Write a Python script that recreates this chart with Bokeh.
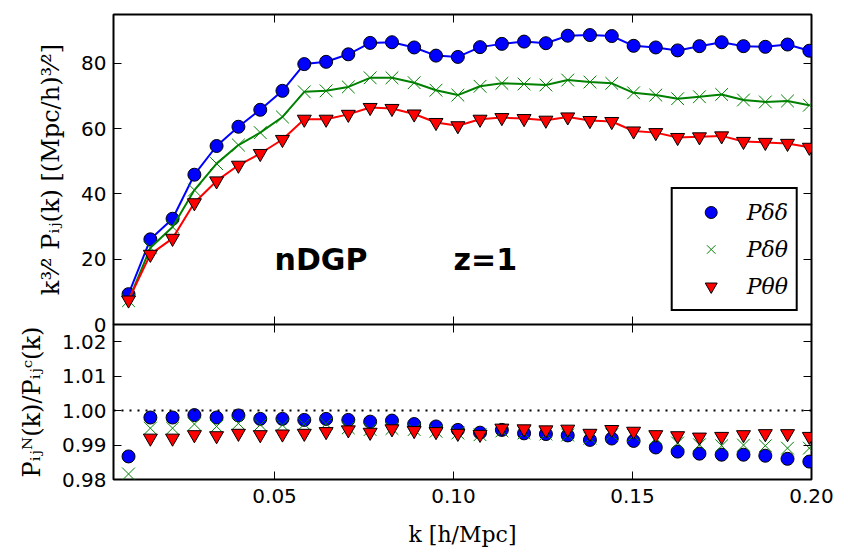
from bokeh.plotting import figure
from bokeh.layouts import column
from bokeh.models import (FixedTicker, LinearAxis, Range1d, Span, Label, Legend,
                          LegendItem, NumeralTickFormatter)
from bokeh.embed import file_html
from bokeh.resources import INLINE

# ---------------- data ----------------
k = [0.0092, 0.0153, 0.0215, 0.0276, 0.0338, 0.0399, 0.0460, 0.0522, 0.0583, 0.0644,
     0.0706, 0.0767, 0.0828, 0.0890, 0.0951, 0.1012, 0.1074, 0.1135, 0.1197, 0.1258,
     0.1319, 0.1381, 0.1442, 0.1503, 0.1565, 0.1626, 0.1687, 0.1749, 0.1810, 0.1871,
     0.1933, 0.1994]

p_dd = [9.3, 26.1, 32.4, 45.9, 54.7, 60.6, 65.8, 71.6, 79.8, 80.5, 82.8, 86.3, 86.5,
        84.9, 82.4, 82.0, 85.0, 86.0, 86.7, 86.2, 88.5, 88.7, 88.4, 85.4, 84.9, 84.0,
        85.3, 86.5, 85.3, 85.1, 85.8, 83.9]
p_dt = [7.3, 23.5, 29.9, 41.2, 49.3, 55.0, 58.8, 63.6, 71.3, 71.6, 72.8, 75.6, 75.6,
        74.1, 71.8, 70.3, 73.0, 73.9, 73.7, 73.4, 74.9, 74.3, 73.9, 71.0, 70.3, 69.2,
        69.8, 70.5, 68.8, 68.2, 68.5, 67.2]
p_tt = [7.5, 21.5, 26.4, 37.3, 44.0, 48.8, 52.4, 56.7, 62.9, 62.9, 64.4, 66.5, 66.2,
        64.5, 61.9, 60.9, 62.9, 63.4, 63.1, 62.6, 63.6, 62.5, 62.2, 59.3, 58.8, 57.3,
        57.5, 57.8, 56.1, 55.8, 55.5, 54.3]

r_dd = [0.9867, 0.9980, 0.9980, 0.9987, 0.9980, 0.9986, 0.9976, 0.9976, 0.9973, 0.9976,
        0.9973, 0.9968, 0.9971, 0.9961, 0.9954, 0.9944, 0.9936, 0.9944, 0.9934, 0.9932,
        0.9928, 0.9915, 0.9919, 0.9912, 0.9893, 0.9881, 0.9875, 0.9872, 0.9872, 0.9869,
        0.9860, 0.9852]
r_dt = [0.9816, 0.9949, 0.9949, 0.9961, 0.9954, 0.9963, 0.9959, 0.9958, 0.9961, 0.9962,
        0.9950, 0.9945, 0.9948, 0.9945, 0.9940, 0.9935, 0.9930, 0.9941, 0.9935, 0.9932,
        0.9929, 0.9920, 0.9930, 0.9928, 0.9920, 0.9906, 0.9901, 0.9898, 0.9900, 0.9898,
        0.9891, 0.9891]
r_tt = [0.9720, 0.9920, 0.9920, 0.9930, 0.9927, 0.9934, 0.9930, 0.9932, 0.9934, 0.9939,
        0.9944, 0.9937, 0.9947, 0.9942, 0.9939, 0.9934, 0.9931, 0.9949, 0.9947, 0.9944,
        0.9946, 0.9934, 0.9945, 0.9940, 0.9930, 0.9927, 0.9923, 0.9925, 0.9930, 0.9933,
        0.9933, 0.9925]

series_labels = ["P\u03b4\u03b4", "P\u03b4\u03b8", "P\u03b8\u03b8"]
x_ticks = [0.05, 0.10, 0.15, 0.20]
y_ticks_top = [0, 20, 40, 60, 80]
y_ticks_bot = [0.98, 0.99, 1.00, 1.01, 1.02]

x_range = (0.005, 0.2)
y_range_top = (0, 95)
y_range_bot = (0.98, 1.025)

TICK_FONT = "DejaVu Sans"
LABEL_FONT = "DejaVu Serif"
OVERLAP = 16   # px of the top canvas that lies under the (transparent) bottom canvas border


def add_axis(p, place, ticks, fmt, labels=True, label=None, label_size="22px"):
    ax = LinearAxis(ticker=FixedTicker(ticks=ticks), formatter=NumeralTickFormatter(format=fmt))
    ax.major_tick_in = 8
    ax.major_tick_out = 0
    ax.major_tick_line_color = "black"
    ax.major_tick_line_width = 1
    ax.minor_tick_line_color = None
    ax.axis_line_color = None
    if labels:
        ax.major_label_text_font = TICK_FONT
        ax.major_label_text_font_size = "20px"
        ax.major_label_text_color = "black"
        ax.major_label_standoff = 7
    else:
        ax.major_label_text_font_size = "0px"
        ax.major_label_text_color = None
        ax.major_label_standoff = 0
    if label is not None:
        ax.axis_label = label
        ax.axis_label_text_font = LABEL_FONT
        ax.axis_label_text_font_size = label_size
        ax.axis_label_text_font_style = "normal"
        ax.axis_label_text_color = "black"
        ax.axis_label_standoff = 13
    p.add_layout(ax, place)
    return ax


def base_fig(fh, yr, top, bottom):
    p = figure(frame_width=698, frame_height=fh,
               x_range=Range1d(*x_range), y_range=Range1d(*yr),
               x_axis_location=None, y_axis_location=None,
               toolbar_location=None, output_backend="svg",
               min_border_left=113, min_border_right=39,
               min_border_top=top, min_border_bottom=bottom,
               background_fill_color="white", border_fill_color="white")
    p.grid.visible = False
    p.outline_line_color = "black"
    p.outline_line_width = 2
    p.outline_line_alpha = 1.0
    return p


# ---------------- top panel ----------------
top = base_fig(310, y_range_top, 14, OVERLAP)
add_axis(top, "left", y_ticks_top, "0", True,
         "k\u00b3\u2044\u00b2 P\u1d62\u2c7c(k) [(Mpc/h)\u00b3\u2044\u00b2]", "24px")
add_axis(top, "right", y_ticks_top, "0", False)
add_axis(top, "above", x_ticks, "0.00", False)
add_axis(top, "below", x_ticks, "0.00", False)

top.line(k, p_dd, line_color="blue", line_width=2)
s_dd = top.scatter(k, p_dd, marker="circle", size=13, fill_color="blue",
                   line_color="black", line_width=1)
top.line(k, p_dt, line_color="green", line_width=2)
s_dt = top.scatter(k, p_dt, marker="x", size=18, line_color="green", line_width=1)
top.line(k, p_tt, line_color="red", line_width=2)
s_tt = top.scatter(k, p_tt, marker="inverted_triangle", size=14, fill_color="red",
                   line_color="black", line_width=1)

top.add_layout(Label(x=0.05, y=20, text="nDGP", text_font=TICK_FONT,
                     text_font_style="bold", text_font_size="30px",
                     text_baseline="alphabetic", text_align="left", text_color="black"))
top.add_layout(Label(x=0.10, y=20, text="z=1", text_font=TICK_FONT,
                     text_font_style="bold", text_font_size="30px",
                     text_baseline="alphabetic", text_align="left", text_color="black"))

legend = Legend(items=[LegendItem(label=series_labels[0], renderers=[s_dd]),
                       LegendItem(label=series_labels[1], renderers=[s_dt]),
                       LegendItem(label=series_labels[2], renderers=[s_tt])],
                location="bottom_right")
legend.margin = 13
legend.padding = 8
legend.spacing = 7
legend.glyph_width = 60
legend.glyph_height = 30
legend.label_height = 30
legend.label_standoff = 6
legend.label_text_font = LABEL_FONT
legend.label_text_font_style = "italic"
legend.label_text_font_size = "22px"
legend.label_text_color = "black"
legend.border_line_color = "black"
legend.border_line_width = 2
legend.border_line_alpha = 1.0
legend.background_fill_color = "white"
legend.background_fill_alpha = 1.0
top.add_layout(legend)

# ---------------- bottom panel ----------------
bot = base_fig(155, y_range_bot, 0, 80)
bot.border_fill_alpha = 0.0
bot.margin = (-OVERLAP, 0, 0, 0)
add_axis(bot, "left", y_ticks_bot, "0.00", True,
         "P\u1d62\u2c7c\u1d3a(k)/P\u1d62\u2c7c\u1d9c(k)", "24px")
add_axis(bot, "right", y_ticks_bot, "0.00", False)
add_axis(bot, "above", x_ticks, "0.00", False)
xax = add_axis(bot, "below", x_ticks, "0.00", True, "k [h/Mpc]")
xax.major_label_standoff = 9
xax.axis_label_standoff = 16

bot.add_layout(Span(location=1.0, dimension="width", line_color="black",
                    line_dash="2 6", line_width=2))
bot.scatter(k, r_dd, marker="circle", size=13, fill_color="blue",
            line_color="black", line_width=1)
bot.scatter(k, r_dt, marker="x", size=18, line_color="green", line_width=1)
bot.scatter(k, r_tt, marker="inverted_triangle", size=14, fill_color="red",
            line_color="black", line_width=1)

layout = column(top, bot, spacing=0)
open("out.html", "w").write(file_html(layout, INLINE))
